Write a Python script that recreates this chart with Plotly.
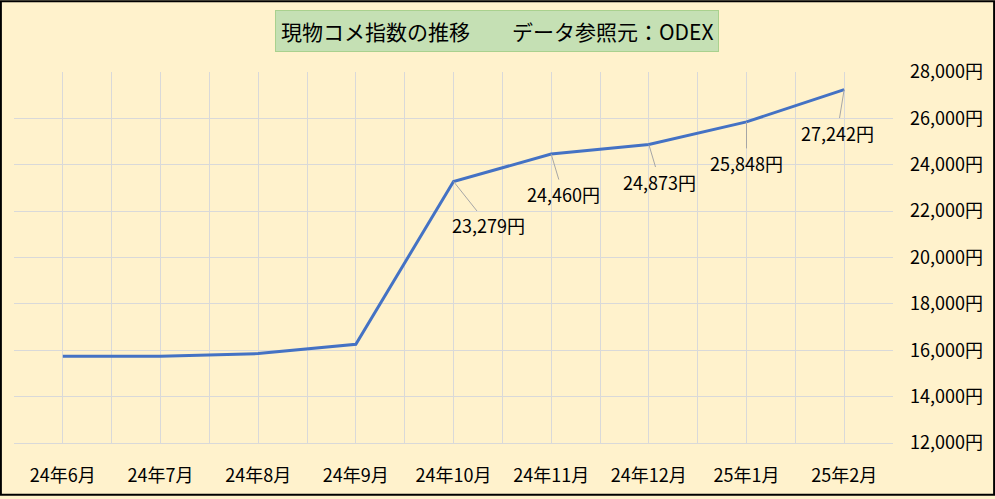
import plotly.graph_objects as go

months = ["24年6月", "24年7月", "24年8月", "24年9月", "24年10月", "24年11月", "24年12月", "25年1月", "25年2月"]
prices = [15745, 15745, 15855, 16255, 23279, 24460, 24873, 25848, 27242]
label_idx = [4, 5, 6, 7, 8]
label_ax = [35, 12, 11, 0, -7]
label_ay = [44, 40, 37, 41, 43]
yticks = list(range(12000, 28001, 2000))

W, H = 995, 499
L, R, T, B = 14, 102, 72, 53
pw, ph = W - L - R, H - T - B

xs = list(range(len(months)))
fig = go.Figure()
fig.add_trace(go.Scatter(x=xs, y=prices, mode="lines",
                         line=dict(color="#4472C4", width=3), hoverinfo="skip"))

font = "Noto Sans CJK JP, Meiryo, sans-serif"
for i, ax, ay in zip(label_idx, label_ax, label_ay):
    fig.add_annotation(x=xs[i], y=prices[i], text=f"{prices[i]:,}円",
                       showarrow=True, arrowhead=0, arrowwidth=1, arrowcolor="#A6A6A6",
                       ax=ax, ay=ay, font=dict(family=font, size=18, color="#000"),
                       standoff=0)

fig.add_annotation(xref="paper", yref="paper",
                   x=(497 - L) / pw, y=1 + (T - 31) / ph,
                   xanchor="center", yanchor="middle",
                   text="現物コメ指数の推移　　データ参照元：ODEX",
                   showarrow=False, bgcolor="#C5E0B4", bordercolor="#A9D18E",
                   borderwidth=1, borderpad=5,
                   font=dict(family=font, size=21, color="#000"))

fig.add_shape(type="rect", xref="paper", yref="paper",
              x0=-L / pw + 0.001, x1=(W - L) / pw - 0.001,
              y0=-B / ph + 0.002, y1=1 + T / ph - 0.002,
              line=dict(color="#000", width=2), layer="above")

fig.update_layout(
    width=W, height=H, margin=dict(l=L, r=R, t=T, b=B),
    paper_bgcolor="#FFF2CC", plot_bgcolor="#FFF2CC",
    showlegend=False,
    xaxis=dict(range=[-0.5, len(months) - 0.5], tickvals=xs, ticktext=months,
               showgrid=True, gridcolor="#D9D9D9", gridwidth=1,
               minor=dict(tickvals=[i - 0.5 for i in range(len(months) + 1)],
                          showgrid=True, gridcolor="#D9D9D9", gridwidth=1),
               zeroline=False, showline=True, linecolor="#D9D9D9",
               ticks="", ticklabelstandoff=16,
               tickfont=dict(family=font, size=18, color="#000")),
    yaxis=dict(range=[12000, 28000], side="right", tickvals=yticks,
               ticktext=[f"{v:,}円" for v in yticks],
               showgrid=True, gridcolor="#D9D9D9", gridwidth=1,
               zeroline=False, ticks="", ticklabelstandoff=16,
               tickfont=dict(family=font, size=18, color="#000")),
)

fig.write_html("out.html", config={"displayModeBar": False},
               post_script="document.body.style.margin='0px';document.body.style.overflow='hidden';")
